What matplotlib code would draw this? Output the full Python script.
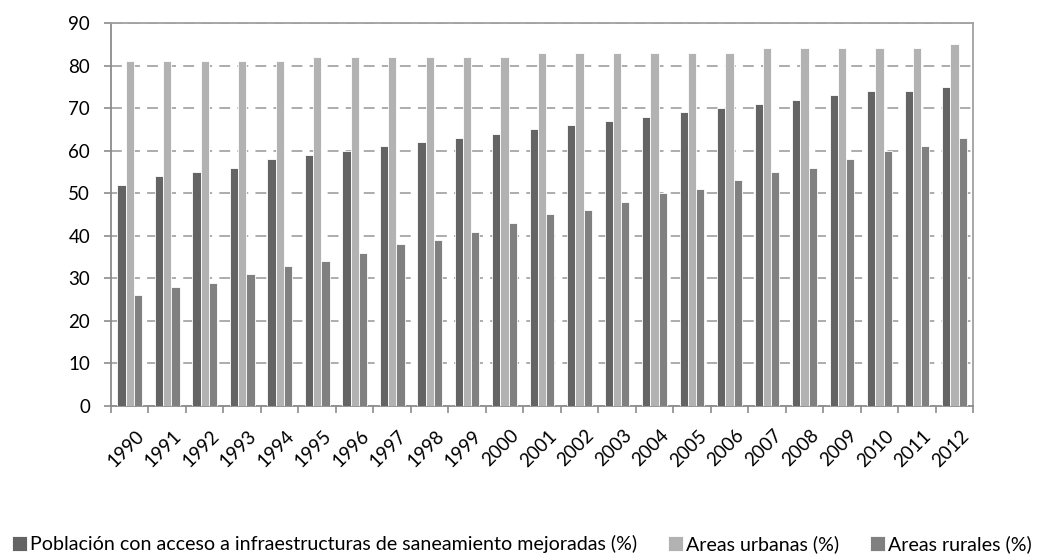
import numpy as np
import matplotlib.pyplot as plt

plt.rcParams['font.family'] = ['Lato', 'DejaVu Sans']

years = [str(y) for y in range(1990, 2013)]
total = [52, 54, 55, 56, 58, 59, 60, 61, 62, 63, 64, 65, 66, 67, 68, 69, 70, 71, 72, 73, 74, 74, 75]
urbanas = [81, 81, 81, 81, 81, 82, 82, 82, 82, 82, 82, 83, 83, 83, 83, 83, 83, 84, 84, 84, 84, 84, 85]
rurales = [26, 28, 29, 31, 33, 34, 36, 38, 39, 41, 43, 45, 46, 48, 50, 51, 53, 55, 56, 58, 60, 61, 63]

series = [
    ("Población con acceso a infraestructuras de saneamiento mejoradas (%)", total, "#646464"),
    ("Areas urbanas (%)", urbanas, "#b2b2b2"),
    ("Areas rurales (%)", rurales, "#808080"),
]

fig = plt.figure(figsize=(10.42, 5.6), dpi=100)
ax = fig.add_axes([0.1065, 0.275, 0.8275, 0.684])

x = np.arange(len(years))
w = 0.22
for i, (name, vals, col) in enumerate(series):
    ax.bar(x + (i - 1) * w, vals, w, color=col, edgecolor="white", linewidth=0.6, label=name, zorder=3)

ax.set_xlim(-0.5, len(years) - 0.5)
ax.set_ylim(0, 90)
ax.set_yticks(range(0, 91, 10))
ax.yaxis.grid(True, linestyle=(0, (6, 4)), color="#a6a6a6", linewidth=1.3, zorder=0)

# category labels centred, tick marks on the category boundaries
ax.set_xticks(x + 0.15)
ax.set_xticklabels(years, rotation=45, ha="right", rotation_mode="anchor", fontsize=13.5)
ax.tick_params(axis="x", which="major", length=0, pad=15)
ax.set_xticks(np.arange(-0.5, len(years)), minor=True)
ax.tick_params(axis="x", which="minor", length=5, color="#8c8c8c", width=1.2)
ax.tick_params(axis="y", length=5, color="#8c8c8c", width=1.2, labelsize=13.5, pad=10)

for s in ax.spines.values():
    s.set_color("#a0a0a0")
    s.set_linewidth(1.3)
ax.spines["left"].set_color("#8c8c8c")
ax.spines["bottom"].set_color("#8c8c8c")

fig.legend(loc="center", bbox_to_anchor=(0.501, 0.028), ncol=3, frameon=False,
           fontsize=14.1, handlelength=0.75, handleheight=0.75, handletextpad=0.15,
           columnspacing=1.6, borderpad=0, borderaxespad=0)

fig.savefig("out.png", dpi=100)
